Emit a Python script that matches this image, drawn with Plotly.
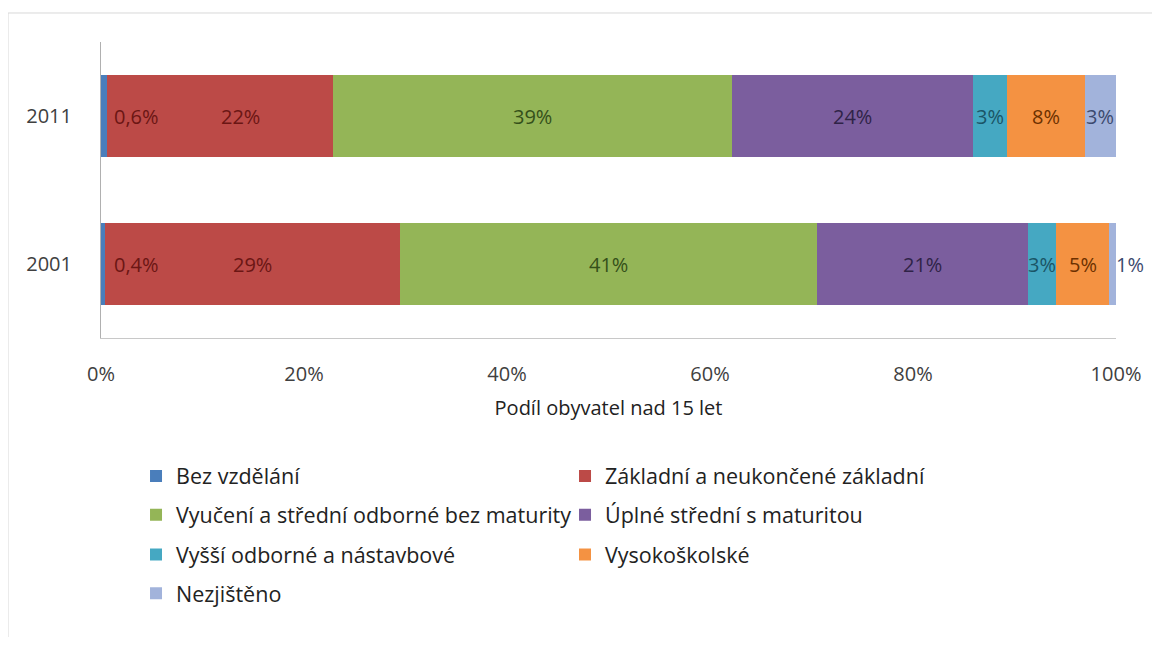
import plotly.graph_objects as go

# ---------------- data ----------------
years = ["2001", "2011"]  # bottom -> top

series_names = [
    "Bez vzdělání",
    "Základní a neukončené základní",
    "Vyučení a střední odborné bez maturity",
    "Úplné střední s maturitou",
    "Vyšší odborné a nástavbové",
    "Vysokoškolské",
    "Nezjištěno",
]

bez_vzdelani = [0.4, 0.6]
zakladni = [29.1, 22.3]
vyuceni = [41.0, 39.3]
uplne_stredni = [20.8, 23.7]
vyssi_odborne = [2.8, 3.4]
vysokoskolske = [5.2, 7.6]
nezjisteno = [0.7, 3.1]

label_bez = ["0,4%", "0,6%"]
label_zakladni = ["29%", "22%"]
label_vyuceni = ["41%", "39%"]
label_uplne = ["21%", "24%"]
label_vyssi = ["3%", "3%"]
label_vysoko = ["5%", "8%"]
label_nezj = ["1%", "3%"]

x_tick_vals = [0, 20, 40, 60, 80, 100]
x_tick_text = ["0%", "20%", "40%", "60%", "80%", "100%"]
x_title = "Podíl obyvatel nad 15 let"

# ---------------- styling ----------------
values = [bez_vzdelani, zakladni, vyuceni, uplne_stredni, vyssi_odborne, vysokoskolske, nezjisteno]
labels = [label_bez, label_zakladni, label_vyuceni, label_uplne, label_vyssi, label_vysoko, label_nezj]
colors = ["#4A7EBB", "#BC4A47", "#94B557", "#7B5E9E", "#45A8C2", "#F49242", "#A2B3DB"]
text_colors = ["#6B1614", "#6B1614", "#34501A", "#2F2347", "#1A5566", "#6B3000", "#3C4A6E"]
# pixel shifts for labels nudged away from segment centres  [2001, 2011]
label_shift = [[33, 32], [0, 20], [0, 0], [0, 0], [0, 0], [0, 0], [18, 0]]

FONT = "Open Sans"
TICK_COLOR = "#404040"

fig = go.Figure()
for name, vals, col in zip(series_names, values, colors):
    fig.add_trace(go.Bar(
        y=years, x=vals, name=name, orientation="h",
        marker=dict(color=col, line=dict(width=0)),
        hoverinfo="skip",
    ))

annotations = []
cum = [0.0] * len(years)
for i, vals in enumerate(values):
    for j in range(len(years)):
        v = vals[j]
        annotations.append(dict(
            x=cum[j] + v / 2, y=j, xref="x", yref="y",
            text=labels[i][j], showarrow=False,
            xshift=label_shift[i][j],
            font=dict(family=FONT, size=20, color=text_colors[i]),
        ))
        cum[j] += v

# legend rows (each row is its own legend)
row_y = [-0.4664, -0.5973, -0.7315, -0.8624]
legend_of_trace = ["legend", "legend", "legend2", "legend2", "legend3", "legend3", "legend4"]
for tr, lg in zip(fig.data, legend_of_trace):
    tr.legend = lg

legend_common = dict(
    orientation="h", x=0.0345, xanchor="left", yanchor="middle",
    entrywidth=384, entrywidthmode="pixels",
    font=dict(family=FONT, size=21.5, color="#222222"),
    bgcolor="rgba(0,0,0,0)", traceorder="normal",
)

fig.update_layout(
    width=1144, height=629,
    margin=dict(l=93, r=36, t=34, b=299),
    barmode="stack", bargap=0.446,
    paper_bgcolor="white", plot_bgcolor="white",
    font=dict(family=FONT, size=20, color=TICK_COLOR),
    showlegend=True,
    legend=dict(legend_common, y=row_y[0]),
    legend2=dict(legend_common, y=row_y[1]),
    legend3=dict(legend_common, y=row_y[2]),
    legend4=dict(legend_common, y=row_y[3]),
    xaxis=dict(
        range=[0, 100], tickvals=x_tick_vals, ticktext=x_tick_text,
        showgrid=False, zeroline=False,
        showline=True, linecolor="#C8C8C8", linewidth=1,
        ticks="outside", ticklen=18, tickcolor="rgba(0,0,0,0)",
        tickfont=dict(family=FONT, size=20, color=TICK_COLOR),
        title=dict(text=x_title, standoff=14,
                   font=dict(family=FONT, size=20, color="#222222")),
    ),
    yaxis=dict(
        type="category", range=[-0.5, 1.5],
        showgrid=False, zeroline=False,
        showline=True, linecolor="#B0B0B0", linewidth=1,
        ticks="outside", ticklen=24, tickcolor="rgba(0,0,0,0)",
        tickfont=dict(family=FONT, size=20, color=TICK_COLOR),
    ),
    annotations=annotations,
    shapes=[dict(
        type="rect", xref="paper", yref="paper",
        x0=-0.0916, x1=1.05, y0=-1.05, y1=1.098,
        line=dict(color="#D9D9D9", width=1), fillcolor="rgba(0,0,0,0)",
        layer="below",
    )],
)

fig.write_html("out.html")
